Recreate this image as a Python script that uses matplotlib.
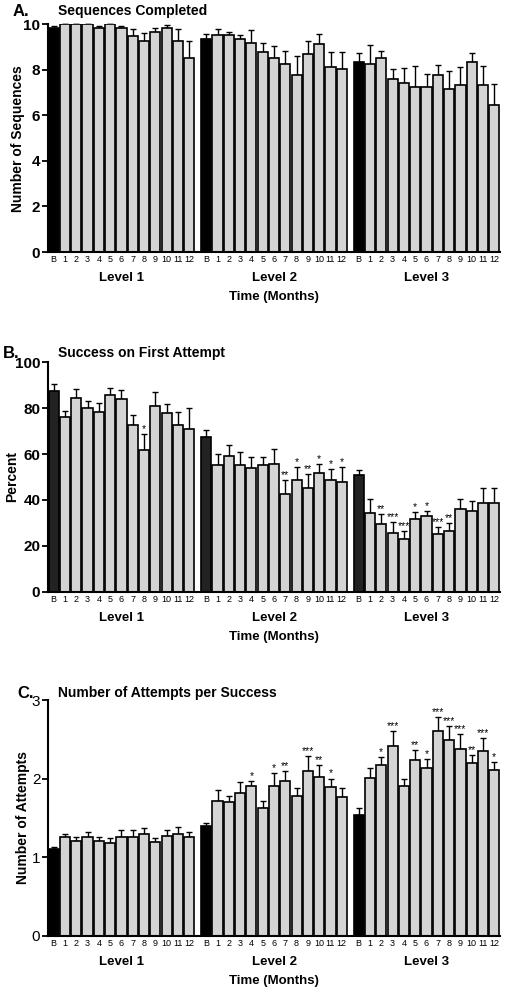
import matplotlib.pyplot as plt
import numpy as np

plt.rcParams['font.family'] = ['Liberation Sans', 'DejaVu Sans']

# dados (media e erro padrao, por nivel)
months = ['B', '1', '2', '3', '4', '5', '6', '7', '8', '9', '10', '11', '12']
levels = ['Level 1', 'Level 2', 'Level 3']

seq_l1 = [9.82, 10, 10, 10, 9.85, 10, 9.85, 9.5, 9.27, 9.68, 9.85, 9.27, 8.5]
seq_l2 = [9.35, 9.52, 9.52, 9.35, 9.18, 8.77, 8.52, 8.27, 7.76, 8.70, 9.12, 8.11, 8.02]
seq_l3 = [8.36, 8.27, 8.52, 7.60, 7.44, 7.26, 7.26, 7.76, 7.17, 7.35, 8.36, 7.35, 6.44]
seq_e1 = [0.12, 0, 0, 0, 0.09, 0, 0.09, 0.28, 0.33, 0.17, 0.10, 0.53, 0.78]
seq_e2 = [0.21, 0.26, 0.14, 0.20, 0.58, 0.41, 0.51, 0.56, 0.86, 0.58, 0.47, 0.69, 0.78]
seq_e3 = [0.36, 0.83, 0.31, 0.45, 0.65, 0.89, 0.56, 0.47, 0.79, 0.79, 0.39, 0.82, 0.92]

pct_l1 = [87.5, 76.3, 84.6, 80.2, 78.2, 85.8, 84.2, 72.8, 61.9, 81.1, 77.8, 72.8, 71.1]
pct_l2 = [67.3, 55.2, 59.3, 55.2, 53.9, 55.2, 55.8, 42.7, 48.7, 45.2, 51.9, 48.7, 47.7]
pct_l3 = [50.7, 34.4, 29.4, 25.7, 23.1, 31.8, 33.1, 25.2, 26.5, 36.0, 35.2, 38.5, 38.5]
pct_e1 = [2.9, 2.6, 3.6, 2.8, 4.1, 2.9, 3.6, 4.2, 7.0, 5.8, 4.0, 5.4, 9.1]
pct_e2 = [3.2, 4.7, 4.6, 5.7, 4.7, 3.7, 6.5, 6.0, 5.5, 6.2, 3.9, 4.6, 6.5]
pct_e3 = [2.4, 6.0, 4.3, 4.8, 3.2, 2.8, 2.2, 3.1, 3.3, 4.4, 4.3, 6.6, 6.7]
pct_s1 = ['', '', '', '', '', '', '', '', '*', '', '', '', '']
pct_s2 = ['', '', '', '', '', '', '', '**', '*', '**', '*', '*', '*']
pct_s3 = ['', '', '**', '***', '***', '*', '*', '***', '**', '', '', '', '']

att_l1 = [1.10, 1.25, 1.21, 1.25, 1.20, 1.18, 1.25, 1.26, 1.29, 1.19, 1.27, 1.30, 1.25]
att_l2 = [1.40, 1.71, 1.70, 1.82, 1.90, 1.62, 1.90, 1.97, 1.78, 2.10, 2.02, 1.89, 1.77]
att_l3 = [1.54, 2.01, 2.17, 2.41, 1.90, 2.24, 2.14, 2.61, 2.49, 2.37, 2.20, 2.35, 2.11]
att_e1 = [0.03, 0.05, 0.05, 0.07, 0.05, 0.06, 0.09, 0.08, 0.08, 0.05, 0.07, 0.08, 0.07]
att_e2 = [0.04, 0.14, 0.08, 0.14, 0.07, 0.09, 0.17, 0.12, 0.10, 0.19, 0.15, 0.11, 0.11]
att_e3 = [0.08, 0.12, 0.10, 0.20, 0.10, 0.12, 0.11, 0.17, 0.18, 0.20, 0.10, 0.16, 0.10]
att_s1 = [''] * 13
att_s2 = ['', '', '', '', '*', '', '*', '**', '', '***', '**', '*', '']
att_s3 = ['', '', '*', '***', '', '**', '*', '***', '***', '***', '**', '***', '*']

W, H = 512, 993
fig = plt.figure(figsize=(W / 100, H / 100), dpi=100)


def painel(top, bottom, medias, erros, estrelas, ymax, yticks, ylabel, label_x, letra, titulo,
           cor_base, tick_weight, title_y, letra_x):
    ax = fig.add_axes([48 / W, 1 - bottom / H, 452 / W, (bottom - top) / H])
    for g in range(3):
        x = np.arange(13) + g * 13.5
        cores = [cor_base] + ['#d4d4d4'] * 12
        ax.bar(x, medias[g], width=0.9, color=cores, edgecolor='black', linewidth=1.2, zorder=2)
        ax.errorbar(x, medias[g], yerr=[np.zeros(13), erros[g]], fmt='none', ecolor='black',
                    elinewidth=1.0, capsize=2.2, capthick=1.0, zorder=1, clip_on=False)
        for i in range(13):
            if estrelas[g][i]:
                ax.annotate(estrelas[g][i], (x[i], medias[g][i] + erros[g][i]),
                            xytext=(0, 0), textcoords='offset points',
                            ha='center', va='bottom', fontsize=7.5)
        ax.annotate(levels[g], (x[6], 0), xycoords=('data', 'axes fraction'),
                    xytext=(0, -19), textcoords='offset points',
                    ha='center', va='center', fontsize=9.5, fontweight='bold')
    ax.annotate('Time (Months)', (0.5, 0), xycoords='axes fraction',
                xytext=(0, -32.5), textcoords='offset points',
                ha='center', va='center', fontsize=9.5, fontweight='bold')
    pos = np.concatenate([np.arange(13) + g * 13.5 for g in range(3)])
    ax.set_xticks(pos)
    ax.set_xticklabels(months * 3, fontsize=6.5)
    ax.tick_params(axis='x', length=0, pad=2.5)
    ax.set_xlim(-0.5, 39.5)
    ax.set_ylim(0, ymax)
    ax.set_yticks(yticks)
    ax.set_yticklabels([str(t) for t in yticks], fontsize=11, fontweight=tick_weight)
    ax.tick_params(axis='y', length=4, width=1.3, pad=1.5)
    ax.set_ylabel(ylabel, fontsize=10, fontweight='bold', va='center')
    ax.yaxis.set_label_coords((label_x - 48) / 452, 0.5)
    for s in ['top', 'right']:
        ax.spines[s].set_visible(False)
    for s in ['left', 'bottom']:
        ax.spines[s].set_linewidth(1.5)
    fig.text(letra_x / W, 1 - title_y / H, letra, fontsize=12, fontweight='bold', va='center')
    fig.text(58 / W, 1 - title_y / H, titulo, fontsize=10, fontweight='bold', va='center')
    return ax


painel(24.3, 252, [seq_l1, seq_l2, seq_l3], [seq_e1, seq_e2, seq_e3], [[''] * 13] * 3,
       10, [0, 2, 4, 6, 8, 10], 'Number of Sequences', 18, 'A.', 'Sequences Completed',
       'black', 'bold', 11, 13)
painel(362.3, 591.7, [pct_l1, pct_l2, pct_l3], [pct_e1, pct_e2, pct_e3], [pct_s1, pct_s2, pct_s3],
       100, [0, 20, 40, 60, 80, 100], 'Percent', 12, 'B.', 'Success on First Attempt',
       '#222222', 'bold', 353, 3)
painel(700, 935.7, [att_l1, att_l2, att_l3], [att_e1, att_e2, att_e3], [att_s1, att_s2, att_s3],
       3, [0, 1, 2, 3], 'Number of Attempts', 23, 'C.', 'Number of Attempts per Success',
       'black', 'normal', 693, 17)

plt.savefig('out.png', dpi=100)
